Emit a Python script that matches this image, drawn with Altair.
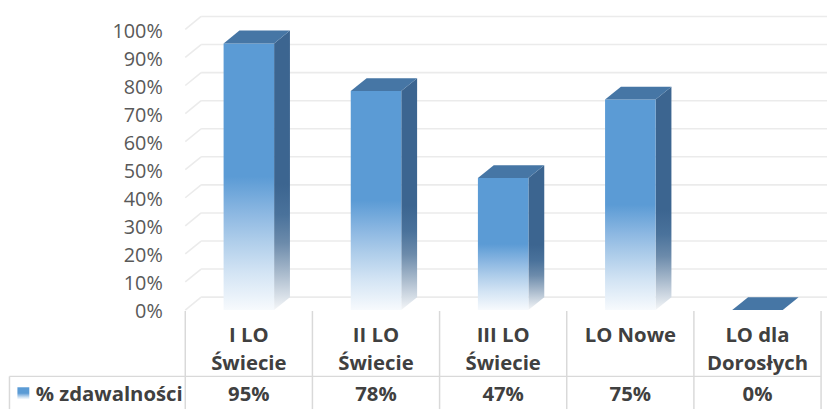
import altair as alt
import pandas as pd

# ---------------- data ----------------
categories = ["I LO\nŚwiecie", "II LO\nŚwiecie", "III LO\nŚwiecie", "LO Nowe", "LO dla\nDorosłych"]
values = [95, 78, 47, 75, 0]
value_labels = ["95%", "78%", "47%", "75%", "0%"]
y_ticks = [0, 10, 20, 30, 40, 50, 60, 70, 80, 90, 100]
y_tick_labels = ["0%", "10%", "20%", "30%", "40%", "50%", "60%", "70%", "80%", "90%", "100%"]
series_name = "% zdawalności"

# ---------------- layout (pixels, chart coordinates) ----------------
W, H = 827, 403
X0 = 243.2      # centre of first category
STEP = 128.4    # category step
FLOOR = 303.0   # front floor (value 0)
PPU = 2.834     # pixels per percentage point
DEPTH_X, DEPTH_Y = 16.0, 13.0
HALF_W = 25.5


def xdata(cx):
    return (cx - X0) / STEP


def ydata(cy):
    return (FLOOR - cy) / PPU


d = DEPTH_X / STEP
dd = DEPTH_Y / PPU
hw = HALF_W / STEP

xs = alt.Scale(domain=[xdata(0), xdata(W)], nice=False, zero=False)
ys = alt.Scale(domain=[ydata(H), ydata(0)], nice=False, zero=False)

FONT = "Open Sans"
GRID = "#EBEBEB"
TABLE = "#D9D9D9"
TEXT = "#404040"


def X(f):
    return alt.X(f, type="quantitative", scale=xs, axis=None)


def Y(f):
    return alt.Y(f, type="quantitative", scale=ys, axis=None)


front_grad = {
    "gradient": "linear", "x1": 0, "y1": 0, "x2": 0, "y2": 1,
    "stops": [
        {"offset": 0, "color": "#5B9BD5"},
        {"offset": 0.5, "color": "#5B9BD5"},
        {"offset": 0.64, "color": "#8DB8E2"},
        {"offset": 0.74, "color": "#AECDEA"},
        {"offset": 0.86, "color": "#D3E4F4"},
        {"offset": 1, "color": "#F7FAFD"},
    ],
}
side_grad = {
    "gradient": "linear", "x1": 0, "y1": 0, "x2": 0, "y2": 1,
    "stops": [
        {"offset": 0, "color": "#3C6590"},
        {"offset": 0.55, "color": "#3C6590"},
        {"offset": 0.66, "color": "#4A729B"},
        {"offset": 0.76, "color": "#6C8BAB"},
        {"offset": 0.87, "color": "#AABBCD"},
        {"offset": 1, "color": "#F4F6F8"},
    ],
}
TOP = "#4676A5"

# ---------------- gridlines (3D back wall) ----------------
grid_rows = []
for t in y_ticks:
    grid_rows.append({"x": -0.5, "x2": -0.5 + d, "y": t, "y2": t + dd})
    grid_rows.append({"x": -0.5 + d, "x2": xdata(W), "y": t + dd, "y2": t + dd})
grid_df = pd.DataFrame(grid_rows)
grid = alt.Chart(grid_df).mark_rule(color=GRID, strokeWidth=1.6).encode(
    x=X("x"), x2="x2", y=Y("y"), y2="y2"
)

# y axis labels
ylab_df = pd.DataFrame({"t": y_ticks, "lab": y_tick_labels, "x": [-0.5] * len(y_ticks)})
ylabels = alt.Chart(ylab_df).mark_text(
    font=FONT, fontSize=20, color="#595959", align="right", baseline="middle",
    dx=-22.7, dy=2.5,
).encode(x=X("x"), y=Y("t"), text="lab:N")

# ---------------- bars ----------------
front_df = pd.DataFrame({
    "i": list(range(len(values))),
    "v": values,
})
front_df["xl"] = front_df["i"] - hw
front_df["xr"] = front_df["i"] + hw
front_df["base"] = 0.0
front = alt.Chart(front_df).mark_rect(fill=front_grad).encode(
    x=X("xl"), x2="xr", y=Y("base"), y2="v"
)

side_rows, top_rows = [], []
for i, v in enumerate(values):
    side_rows.append({"i": i, "x": i + hw, "lo": 0.0, "hi": v})
    side_rows.append({"i": i, "x": i + hw + d, "lo": dd, "hi": v + dd})
    top_rows.append({"i": i, "x": i - hw, "lo": v, "hi": v})
    top_rows.append({"i": i, "x": i - hw + d, "lo": v, "hi": v + dd})
    top_rows.append({"i": i, "x": i + hw, "lo": v, "hi": v + dd})
    top_rows.append({"i": i, "x": i + hw + d, "lo": v + dd, "hi": v + dd})
side = alt.Chart(pd.DataFrame(side_rows)).mark_area(fill=side_grad).encode(
    x=X("x"), y=Y("lo"), y2="hi", detail="i:N"
)
top = alt.Chart(pd.DataFrame(top_rows)).mark_area(fill=TOP).encode(
    x=X("x"), y=Y("lo"), y2="hi", detail="i:N"
)

# ---------------- data table ----------------
n = len(values)
vlines_df = pd.DataFrame({
    "x": [k - 0.5 for k in range(n + 1)],
    "y": [ydata(FLOOR + 1)] * (n + 1),
    "y2": [ydata(H)] * (n + 1),
})
vlines = alt.Chart(vlines_df).mark_rule(color=TABLE, strokeWidth=1.5).encode(
    x=X("x"), y=Y("y"), y2="y2"
)
ROW_LINE = 370.0
HDR_LEFT = 1.5
hline_df = pd.DataFrame({"x": [xdata(HDR_LEFT)], "x2": [n - 0.5], "y": [ydata(ROW_LINE)]})
hline = alt.Chart(hline_df).mark_rule(color=TABLE, strokeWidth=1.5).encode(
    x=X("x"), x2="x2", y=Y("y")
)
lborder_df = pd.DataFrame({"x": [xdata(HDR_LEFT)], "y": [ydata(ROW_LINE)], "y2": [ydata(H)]})
lborder = alt.Chart(lborder_df).mark_rule(color=TABLE, strokeWidth=1.5).encode(
    x=X("x"), y=Y("y"), y2="y2"
)

cat_df = pd.DataFrame({"i": list(range(n)), "label": categories, "val": value_labels})
cat_df["ycat"] = ydata(335.0)
cat_df["yval"] = ydata(395.0)
TFS = 20.5
cat_text = alt.Chart(cat_df).mark_text(
    font=FONT, fontSize=TFS, fontWeight="bold", color=TEXT, lineBreak="\n",
    lineHeight=28.5, align="center", baseline="alphabetic",
).encode(x=X("i"), y=Y("ycat"), text="label:N")
val_text = alt.Chart(cat_df).mark_text(
    font=FONT, fontSize=TFS, fontWeight="bold", color=TEXT,
    align="center", baseline="alphabetic",
).encode(x=X("i"), y=Y("yval"), text="val:N")

hdr_df = pd.DataFrame({"x": [xdata(28.0)], "y": [ydata(395.0)], "name": [series_name]})
hdr_text = alt.Chart(hdr_df).mark_text(
    font=FONT, fontSize=TFS, fontWeight="bold", color=TEXT,
    align="left", baseline="alphabetic",
).encode(x=X("x"), y=Y("y"), text="name:N")

sw_df = pd.DataFrame({"x": [xdata(9.5)], "x2": [xdata(21.5)], "y": [ydata(393.0)], "y2": [ydata(381.0)]})
swatch = alt.Chart(sw_df).mark_rect(fill=front_grad).encode(
    x=X("x"), x2="x2", y=Y("y"), y2="y2"
)

chart = alt.layer(
    grid, ylabels, side, front, top, vlines, hline, lborder,
    cat_text, val_text, hdr_text, swatch,
).properties(
    width=W, height=H, padding=0, autosize=alt.AutoSizeParams(type="none"),
    background="white",
).configure_view(stroke=None)

chart.save("out.html", embed_options={"renderer": "svg", "actions": False})
